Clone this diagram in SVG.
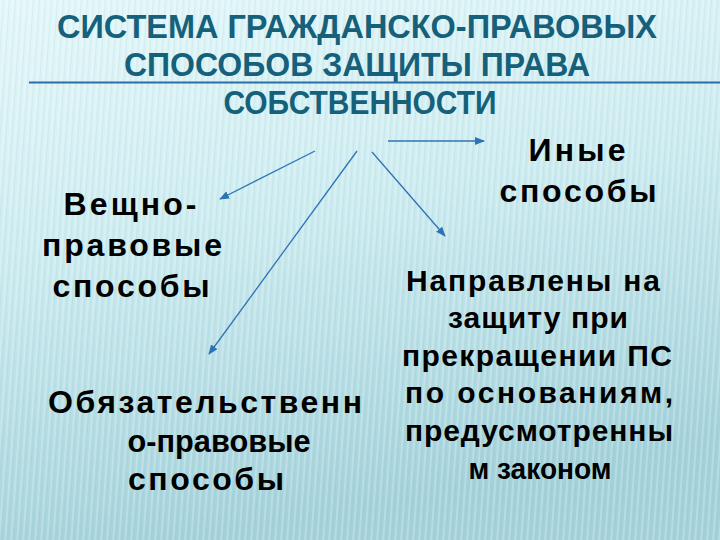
<svg xmlns="http://www.w3.org/2000/svg" width="720" height="540" viewBox="0 0 720 540">
<defs>
<linearGradient id="bg" x1="0" y1="0" x2="0.25" y2="1">
<stop offset="0" stop-color="#e4f7f9"/>
<stop offset="0.45" stop-color="#cdecf0"/>
<stop offset="1" stop-color="#a3d1da"/>
</linearGradient>
<pattern id="stripes" width="6" height="540" patternUnits="userSpaceOnUse" patternTransform="skewX(-4)">
<rect x="0" y="0" width="2" height="540" fill="#ffffff" opacity="0.22"/>
<rect x="3" y="0" width="1" height="540" fill="#7fb8c4" opacity="0.12"/>
</pattern>
<marker id="ah" markerUnits="userSpaceOnUse" markerWidth="10" markerHeight="8" refX="9" refY="4" orient="auto">
<path d="M0,0 L10,4 L0,8 Z" fill="#2e74b5"/>
</marker>
<style>
.title{font-family:"Liberation Sans",Arial,sans-serif;font-weight:bold;font-size:33px;fill:#15607a;text-anchor:middle}
.lbl{font-family:"Liberation Sans",Arial,sans-serif;font-weight:bold;font-size:32px;fill:#000000;text-anchor:middle}
.sm{font-size:30px}
.conn{stroke:#2e74b5;stroke-width:1.3;fill:none;marker-end:url(#ah)}
</style>
</defs>
<rect width="720" height="540" fill="url(#bg)"/>
<rect width="720" height="540" fill="url(#stripes)"/>
<g id="title">
<text class="title" x="357" y="38" textLength="600" lengthAdjust="spacingAndGlyphs">СИСТЕМА ГРАЖДАНСКО-ПРАВОВЫХ</text>
<text class="title" x="357" y="76" textLength="466" lengthAdjust="spacingAndGlyphs">СПОСОБОВ ЗАЩИТЫ ПРАВА</text>
<text class="title" x="360" y="114" textLength="273" lengthAdjust="spacingAndGlyphs">СОБСТВЕННОСТИ</text>
<line x1="29" y1="82.5" x2="720" y2="82.5" stroke="#2a6ea8" stroke-width="2"/>
</g>
<g id="connectors">
<line class="conn" x1="315" y1="151" x2="220" y2="199"/>
<line class="conn" x1="357" y1="151" x2="209" y2="354"/>
<line class="conn" x1="372" y1="152" x2="445" y2="236"/>
<line class="conn" x1="388" y1="141" x2="484" y2="141"/>
</g>
<g id="node-veshno">
<text class="lbl" x="130" y="215" textLength="133" lengthAdjust="spacing">Вещно-</text>
<text class="lbl" x="132" y="256" textLength="180" lengthAdjust="spacing">правовые</text>
<text class="lbl" x="131" y="297" textLength="157" lengthAdjust="spacing">способы</text>
</g>
<g id="node-inye">
<text class="lbl" x="577" y="161" textLength="97" lengthAdjust="spacing">Иные</text>
<text class="lbl" x="578" y="202" textLength="157" lengthAdjust="spacing">способы</text>
</g>
<g id="node-obyaz">
<text class="lbl" x="205" y="413" textLength="314" lengthAdjust="spacing">Обязательственн</text>
<text class="lbl" x="219" y="452" textLength="183" lengthAdjust="spacingAndGlyphs">о-правовые</text>
<text class="lbl" x="206" y="490" textLength="156" lengthAdjust="spacing">способы</text>
</g>
<g id="node-napravleny">
<text class="lbl sm" x="533" y="291" textLength="254" lengthAdjust="spacing">Направлены на</text>
<text class="lbl sm" x="538" y="328" textLength="180" lengthAdjust="spacing">защиту при</text>
<text class="lbl sm" x="537" y="366" textLength="270" lengthAdjust="spacing">прекращении ПС</text>
<text class="lbl sm" x="539" y="403" textLength="268" lengthAdjust="spacing">по основаниям,</text>
<text class="lbl sm" x="539" y="441" textLength="268" lengthAdjust="spacing">предусмотренны</text>
<text class="lbl sm" x="540" y="479" textLength="143" lengthAdjust="spacingAndGlyphs">м законом</text>
</g>
</svg>
